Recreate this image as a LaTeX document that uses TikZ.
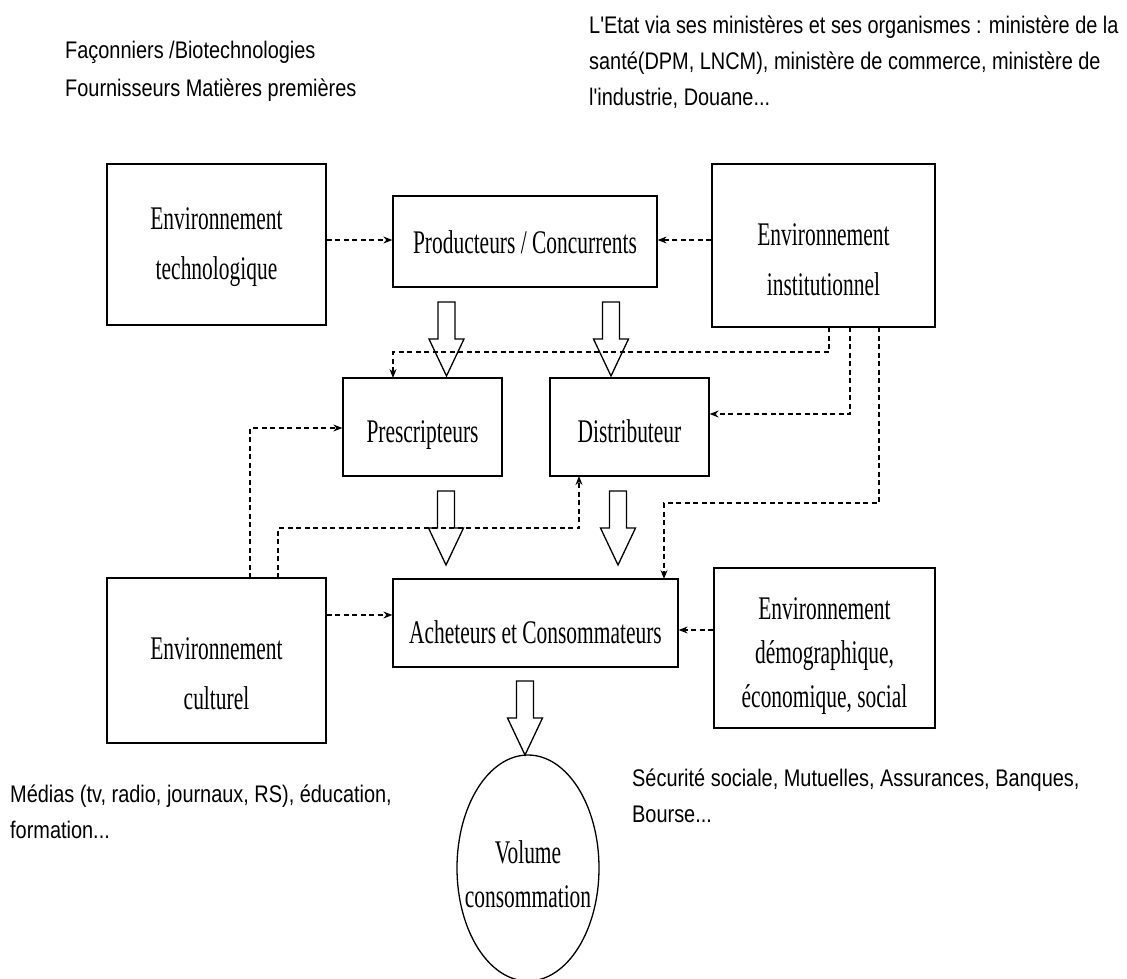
\documentclass[tikz,border=0pt]{standalone}
\usepackage{fontspec}
\setmainfont{Liberation Serif}
\newfontfamily\boxfont[FakeStretch=0.65]{Liberation Serif}
\newfontfamily\notefont[FakeStretch=0.83]{Liberation Sans}
\usetikzlibrary{arrows.meta,shapes.geometric,calc}
\newcommand\blockarr[2]{%
  \draw[line width=1.3pt,line join=miter] (#1-8.5,#2) -- (#1+8.5,#2) -- (#1+8.5,#2+37) -- (#1+17.5,#2+37)
    -- (#1,#2+74) -- (#1-17.5,#2+37) -- (#1-8.5,#2+37) -- cycle;}
\begin{document}
\begin{tikzpicture}[x=1pt,y=-1pt,
  box/.style={draw,line width=1.3pt,inner sep=0pt},
  btext/.style={inner sep=0pt,align=center,font=\boxfont\fontsize{33}{50}\selectfont},
  btextc/.style={inner sep=0pt,align=center,font=\boxfont\fontsize{33}{44}\selectfont},
  note/.style={anchor=base west,inner sep=0pt,font=\notefont\fontsize{24}{36}\selectfont},
  dl/.style={line width=1.1pt,dash pattern=on 5pt off 3.5pt,
    -{Stealth[length=9pt,width=7pt,inset=3pt]}}]
\useasboundingbox (0,0) rectangle (1127,978);
\begin{scope}
\clip (0,0) rectangle (1127,978);
% boxes
\node[box,minimum width=219pt,minimum height=161pt] (tech) at (216.5,244.5) {};
\node[box,minimum width=264pt,minimum height=91pt] (prod) at (525,241.5) {};
\node[box,minimum width=223pt,minimum height=163pt] (inst) at (823.5,245.5) {};
\node[box,minimum width=159pt,minimum height=98pt] (presc) at (422.5,427) {};
\node[box,minimum width=159pt,minimum height=98pt] (dist) at (629.5,427) {};
\node[box,minimum width=285pt,minimum height=88pt] (ach) at (535.5,623) {};
\node[box,minimum width=219pt,minimum height=165pt] (cult) at (216.5,660.5) {};
\node[box,minimum width=221pt,minimum height=160pt] (demo) at (824.5,648) {};
\node[box,ellipse,minimum width=142pt,minimum height=226pt] (vol) at (528,868) {};
% box texts
\node[btext] (techT) at ([yshift=-3pt]tech.center) {Environnement\\technologique};
\node[btext] (prodT) at ([yshift=-1pt]prod.center) {Producteurs / Concurrents};
\node[btext] (instT) at ([yshift=-14pt]inst.center) {Environnement\\institutionnel};
\node[btext] (prescT) at ([yshift=-8pt]presc.center) {Prescripteurs};
\node[btext] (distT) at ([yshift=-4pt]dist.center) {Distributeur};
\node[btext] (achT) at ([yshift=-9pt]ach.center) {Acheteurs et Consommateurs};
\node[btext] (cultT) at ([yshift=-13pt]cult.center) {Environnement\\culturel};
\node[btextc] (demoT) at ([yshift=-8pt]demo.center) {Environnement\\démographique,\\économique, social};
\node[btextc] (volT) at ([yshift=-6pt]vol.center) {Volume\\consommation};
% block arrows
\blockarr{446.5}{302}
\blockarr{611}{302}
\blockarr{446}{491}
\blockarr{618}{491}
\blockarr{525}{681}
% coordinates for dashed routes
\coordinate (iA) at (829,327);
\coordinate (iB) at (850,327);
\coordinate (iC) at (879,327);
\coordinate (pIn) at (393,378);
\coordinate (aIn) at (664,579);
\coordinate (cA) at (250,578);
\coordinate (cB) at (278,578);
\coordinate (dIn) at (579,476);
% dashed connectors
\draw[dl] (tech.east |- 0,240) -- (prod.west |- 0,240);
\draw[dl] (inst.west |- 0,240) -- (prod.east |- 0,240);
\draw[dl] (iA) |- (pIn |- 0,352) -- (pIn);
\draw[dl] (iB) |- (dist.east |- 0,414);
\draw[dl] (iC) |- (aIn |- 0,503) -- (aIn);
\draw[dl] (cA) |- (presc.west |- 0,428);
\draw[dl] (cB) |- (dIn |- 0,528) -- (dIn);
\draw[dl] (cult.east |- 0,615) -- (ach.west |- 0,615);
\draw[dl] (demo.west |- 0,630) -- (ach.east |- 0,630);
% notes
\node[note] (tl1) at (65,58) {Façonniers /Biotechnologies};
\node[note] (tl2) at (65,96) {Fournisseurs Matières premières};
\node[note] (tr1) at (589,33) {L'Etat via ses ministères et ses organismes : ministère de la};
\node[note] (tr2) at (589,69) {santé(DPM, LNCM), ministère de commerce, ministère de};
\node[note] (tr3) at (589,105) {l'industrie, Douane...};
\node[note] (bl1) at (10,802) {Médias (tv, radio, journaux, RS), éducation,};
\node[note] (bl2) at (10,838) {formation...};
\node[note] (br1) at (632,786) {Sécurité sociale, Mutuelles, Assurances, Banques,};
\node[note] (br2) at (632,822) {Bourse...};
\end{scope}
\end{tikzpicture}
\end{document}
